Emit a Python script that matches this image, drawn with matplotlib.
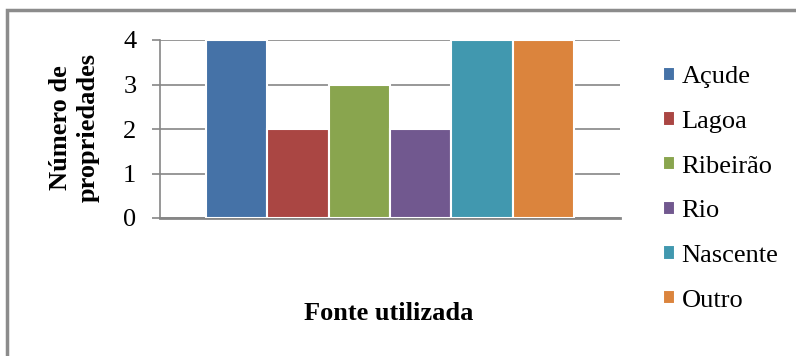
import matplotlib.pyplot as plt
from matplotlib.patches import Rectangle

plt.rcParams['font.family'] = ['Liberation Serif', 'DejaVu Serif']

fontes = ["Açude", "Lagoa", "Ribeirão", "Rio", "Nascente", "Outro"]
propriedades = [4, 2, 3, 2, 4, 4]
cores = ["#4572A7", "#AA4643", "#89A54E", "#71588F", "#4198AF", "#DB843D"]

W, H = 796, 356
fig = plt.figure(figsize=(W / 100, H / 100), dpi=100)

# moldura cinza do gráfico (cortada à direita e embaixo)
fig.patches.append(Rectangle((7 / W, -0.1), 1.1, 1.1 - 10 / H, transform=fig.transFigure,
                             fill=False, edgecolor="#8c8c8c", linewidth=2.5))

ax = fig.add_axes([160 / W, 138 / H, 460 / W, 178 / H])

n = len(fontes)
larg = 0.8 / n
for i, (nome, v, c) in enumerate(zip(fontes, propriedades, cores)):
    ax.bar(-0.4 + larg * (i + 0.5), v, width=larg, color=c, edgecolor="white",
           linewidth=1.5, label=nome, zorder=3)

ax.set_xlim(-0.5, 0.5)
ax.set_ylim(0, 4)
ax.set_yticks(range(5))
ax.set_xticks([])
ax.yaxis.grid(True, color="#868686", linewidth=1.2, zorder=0)
ax.set_axisbelow(True)
for s in ["top", "right"]:
    ax.spines[s].set_visible(False)
ax.spines["left"].set_color("#868686")
ax.spines["left"].set_linewidth(1.2)
ax.spines["bottom"].set_color("#868686")
ax.spines["bottom"].set_linewidth(2)
ax.tick_params(axis="y", length=6, width=1.2, color="#868686", labelsize=19, pad=11)

fig.text(74 / W, 1 - 128 / H, "Número de\npropriedades", rotation=90, ha="center",
         va="center", multialignment="center", fontsize=19, fontweight="bold",
         linespacing=1.25)
fig.text(389 / W, 1 - 313 / H, "Fonte utilizada", ha="center", va="center",
         fontsize=19, fontweight="bold")

fig.legend(loc="upper left", bbox_to_anchor=(650 / W, 1 - 53 / H), frameon=False,
           fontsize=19, handlelength=0.45, handleheight=0.45, handletextpad=0.25,
           labelspacing=0.86, borderpad=0)

fig.savefig("out.png", dpi=100)
